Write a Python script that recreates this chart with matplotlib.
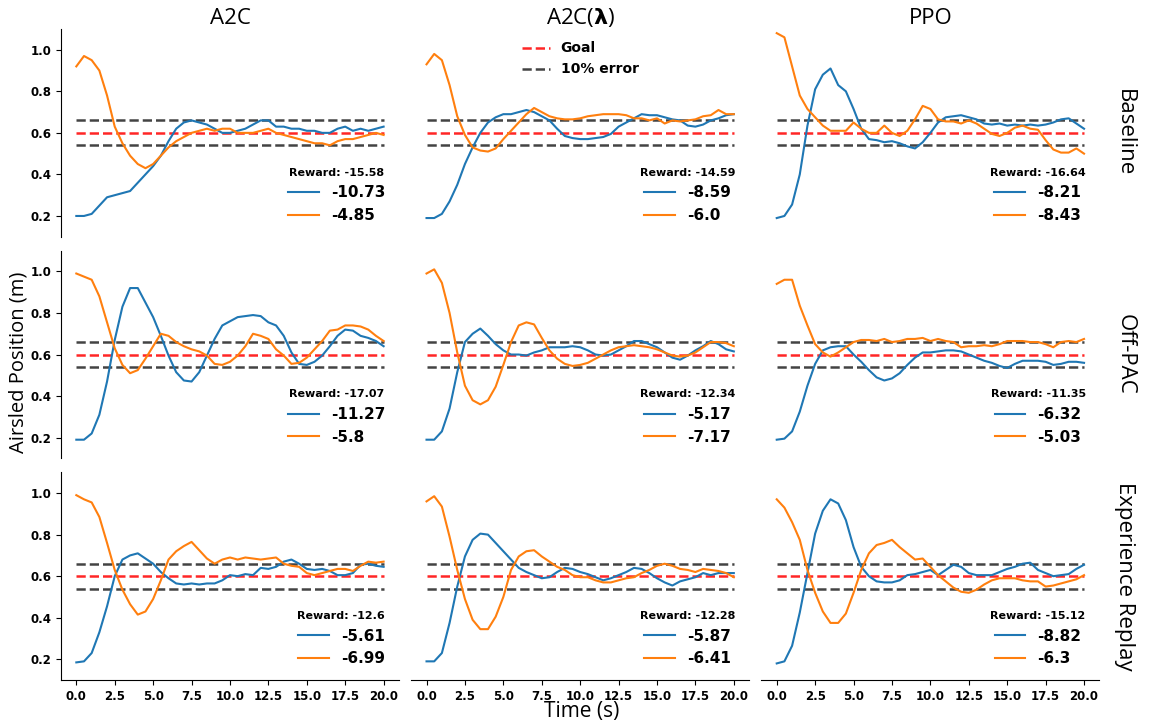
import numpy as np
import matplotlib
matplotlib.use("Agg")
import matplotlib.pyplot as plt

# ── Data ────────────────────────────────────────────────────────────────────
time_s = np.linspace(0, 20, 41)

algorithms = ["A2C", "A2C($\\boldsymbol{\\lambda}$)", "PPO"]
methods = ["Baseline", "Off-PAC", "Experience Replay"]

GOAL = 0.6
ERROR_BAND = (0.54, 0.66)

# Baseline
a2c_base_blue = [0.20, 0.20, 0.21, 0.25, 0.29, 0.30, 0.31, 0.32, 0.36, 0.40, 0.44,
                 0.49, 0.56, 0.62, 0.65, 0.66, 0.65, 0.64, 0.62, 0.60, 0.60, 0.61,
                 0.62, 0.64, 0.66, 0.66, 0.63, 0.63, 0.62, 0.62, 0.61, 0.61, 0.60,
                 0.60, 0.62, 0.63, 0.61, 0.62, 0.61, 0.62, 0.63]
a2c_base_orange = [0.92, 0.97, 0.95, 0.90, 0.78, 0.63, 0.55, 0.49, 0.45, 0.43, 0.45,
                   0.49, 0.53, 0.56, 0.58, 0.60, 0.61, 0.62, 0.61, 0.62, 0.62, 0.60,
                   0.60, 0.60, 0.61, 0.62, 0.60, 0.59, 0.58, 0.57, 0.56, 0.55, 0.55,
                   0.54, 0.56, 0.57, 0.57, 0.58, 0.59, 0.60, 0.59]
a2cl_base_blue = [0.19, 0.19, 0.21, 0.27, 0.35, 0.45, 0.53, 0.60, 0.65, 0.675, 0.69,
                  0.69, 0.70, 0.71, 0.70, 0.68, 0.66, 0.62, 0.585, 0.575, 0.57, 0.57,
                  0.575, 0.58, 0.595, 0.63, 0.65, 0.67, 0.69, 0.685, 0.685, 0.675,
                  0.665, 0.66, 0.635, 0.63, 0.64, 0.66, 0.67, 0.685, 0.69]
a2cl_base_orange = [0.93, 0.98, 0.95, 0.83, 0.68, 0.59, 0.53, 0.515, 0.51, 0.525, 0.57,
                    0.61, 0.65, 0.69, 0.72, 0.70, 0.68, 0.67, 0.665, 0.665, 0.67, 0.68,
                    0.685, 0.69, 0.69, 0.69, 0.685, 0.67, 0.67, 0.66, 0.67, 0.645,
                    0.66, 0.655, 0.66, 0.665, 0.68, 0.685, 0.71, 0.69, 0.69]
ppo_base_blue = [0.19, 0.20, 0.255, 0.40, 0.635, 0.81, 0.88, 0.91, 0.83, 0.80, 0.715,
                 0.62, 0.57, 0.565, 0.555, 0.56, 0.55, 0.535, 0.525, 0.555, 0.60, 0.65,
                 0.675, 0.68, 0.685, 0.675, 0.665, 0.645, 0.64, 0.645, 0.635, 0.64,
                 0.635, 0.64, 0.635, 0.64, 0.65, 0.665, 0.67, 0.645, 0.62]
ppo_base_orange = [1.08, 1.06, 0.92, 0.78, 0.715, 0.675, 0.635, 0.61, 0.61, 0.61, 0.65,
                   0.62, 0.60, 0.60, 0.635, 0.60, 0.585, 0.61, 0.665, 0.73, 0.715,
                   0.665, 0.655, 0.655, 0.645, 0.66, 0.645, 0.62, 0.595, 0.585, 0.60,
                   0.625, 0.635, 0.62, 0.615, 0.565, 0.52, 0.505, 0.505, 0.525, 0.50]

# Off-PAC
a2c_offpac_blue = [0.19, 0.19, 0.22, 0.31, 0.47, 0.67, 0.83, 0.92, 0.92, 0.85, 0.78,
                   0.69, 0.595, 0.515, 0.475, 0.47, 0.515, 0.595, 0.675, 0.74, 0.76,
                   0.78, 0.785, 0.79, 0.785, 0.755, 0.74, 0.69, 0.61, 0.555, 0.55,
                   0.565, 0.595, 0.64, 0.69, 0.72, 0.715, 0.69, 0.68, 0.665, 0.64]
a2c_offpac_orange = [0.99, 0.975, 0.96, 0.88, 0.755, 0.63, 0.55, 0.51, 0.525, 0.58, 0.64,
                     0.70, 0.69, 0.66, 0.64, 0.625, 0.615, 0.595, 0.555, 0.55, 0.565,
                     0.595, 0.64, 0.70, 0.69, 0.675, 0.625, 0.595, 0.555, 0.56, 0.585,
                     0.625, 0.665, 0.715, 0.72, 0.74, 0.74, 0.735, 0.72, 0.69, 0.665]
a2cl_offpac_blue = [0.19, 0.19, 0.23, 0.34, 0.515, 0.66, 0.70, 0.725, 0.69, 0.65, 0.62,
                    0.60, 0.60, 0.595, 0.61, 0.62, 0.635, 0.635, 0.635, 0.64, 0.635,
                    0.62, 0.60, 0.595, 0.60, 0.62, 0.64, 0.665, 0.665, 0.65, 0.635,
                    0.61, 0.585, 0.575, 0.595, 0.62, 0.64, 0.665, 0.65, 0.625, 0.615]
a2cl_offpac_orange = [0.99, 1.01, 0.945, 0.80, 0.61, 0.45, 0.38, 0.36, 0.38, 0.445, 0.55,
                      0.66, 0.74, 0.755, 0.745, 0.68, 0.62, 0.58, 0.555, 0.545, 0.55,
                      0.56, 0.58, 0.60, 0.62, 0.635, 0.64, 0.645, 0.64, 0.635, 0.625,
                      0.61, 0.595, 0.59, 0.595, 0.61, 0.635, 0.66, 0.66, 0.655, 0.64]
ppo_offpac_blue = [0.19, 0.195, 0.23, 0.325, 0.45, 0.555, 0.62, 0.635, 0.64, 0.64, 0.60,
                   0.565, 0.525, 0.49, 0.475, 0.485, 0.51, 0.55, 0.585, 0.61, 0.61,
                   0.615, 0.62, 0.62, 0.615, 0.60, 0.585, 0.57, 0.56, 0.545, 0.535,
                   0.555, 0.57, 0.57, 0.57, 0.565, 0.55, 0.555, 0.565, 0.565, 0.56]
ppo_offpac_orange = [0.94, 0.96, 0.96, 0.835, 0.74, 0.65, 0.61, 0.59, 0.61, 0.635, 0.66,
                     0.67, 0.67, 0.665, 0.675, 0.66, 0.665, 0.675, 0.675, 0.68, 0.665,
                     0.675, 0.665, 0.66, 0.635, 0.64, 0.64, 0.645, 0.64, 0.65, 0.665,
                     0.665, 0.665, 0.66, 0.66, 0.65, 0.635, 0.66, 0.665, 0.66, 0.675]

# Experience Replay
a2c_er_blue = [0.185, 0.19, 0.23, 0.33, 0.455, 0.60, 0.68, 0.70, 0.71, 0.685, 0.66,
               0.62, 0.59, 0.565, 0.56, 0.565, 0.56, 0.565, 0.565, 0.58, 0.605, 0.60,
               0.61, 0.605, 0.64, 0.635, 0.645, 0.67, 0.68, 0.66, 0.635, 0.63, 0.635,
               0.625, 0.605, 0.605, 0.615, 0.655, 0.66, 0.65, 0.645]
a2c_er_orange = [0.99, 0.97, 0.955, 0.885, 0.76, 0.63, 0.535, 0.465, 0.415, 0.43, 0.49,
                 0.58, 0.68, 0.72, 0.745, 0.765, 0.725, 0.685, 0.66, 0.68, 0.69, 0.68,
                 0.69, 0.685, 0.68, 0.685, 0.69, 0.66, 0.65, 0.645, 0.615, 0.605, 0.615,
                 0.625, 0.635, 0.635, 0.625, 0.65, 0.67, 0.665, 0.67]
a2cl_er_blue = [0.19, 0.19, 0.23, 0.375, 0.55, 0.695, 0.775, 0.805, 0.80, 0.76, 0.72,
                0.68, 0.64, 0.62, 0.605, 0.59, 0.595, 0.62, 0.64, 0.635, 0.62, 0.61,
                0.595, 0.58, 0.59, 0.605, 0.62, 0.64, 0.635, 0.615, 0.59, 0.57, 0.555,
                0.575, 0.585, 0.595, 0.615, 0.605, 0.615, 0.615, 0.615]
a2cl_er_orange = [0.96, 0.985, 0.935, 0.79, 0.63, 0.49, 0.39, 0.345, 0.345, 0.405, 0.50,
                  0.63, 0.695, 0.72, 0.725, 0.695, 0.67, 0.645, 0.63, 0.605, 0.595,
                  0.595, 0.58, 0.57, 0.57, 0.58, 0.59, 0.595, 0.615, 0.63, 0.65, 0.66,
                  0.65, 0.635, 0.63, 0.62, 0.635, 0.63, 0.625, 0.615, 0.595]
ppo_er_blue = [0.18, 0.19, 0.265, 0.425, 0.615, 0.805, 0.915, 0.97, 0.95, 0.87, 0.74,
               0.645, 0.60, 0.575, 0.57, 0.57, 0.58, 0.605, 0.61, 0.62, 0.63, 0.605,
               0.63, 0.655, 0.645, 0.615, 0.605, 0.605, 0.605, 0.62, 0.635, 0.645,
               0.66, 0.665, 0.63, 0.615, 0.60, 0.605, 0.61, 0.635, 0.655]
ppo_er_orange = [0.97, 0.93, 0.86, 0.775, 0.63, 0.52, 0.43, 0.375, 0.375, 0.42, 0.52,
                 0.63, 0.71, 0.75, 0.76, 0.775, 0.74, 0.71, 0.68, 0.685, 0.645, 0.605,
                 0.575, 0.545, 0.525, 0.52, 0.535, 0.56, 0.58, 0.59, 0.59, 0.59, 0.58,
                 0.575, 0.575, 0.55, 0.555, 0.565, 0.575, 0.585, 0.605]

# per-panel rewards: (blue, orange)
rewards = [
    [(-10.73, -4.85), (-8.59, -6.0), (-8.21, -8.43)],
    [(-11.27, -5.8), (-5.17, -7.17), (-6.32, -5.03)],
    [(-5.61, -6.99), (-5.87, -6.41), (-8.82, -6.3)],
]

traces = [
    [(a2c_base_blue, a2c_base_orange), (a2cl_base_blue, a2cl_base_orange),
     (ppo_base_blue, ppo_base_orange)],
    [(a2c_offpac_blue, a2c_offpac_orange), (a2cl_offpac_blue, a2cl_offpac_orange),
     (ppo_offpac_blue, ppo_offpac_orange)],
    [(a2c_er_blue, a2c_er_orange), (a2cl_er_blue, a2cl_er_orange),
     (ppo_er_blue, ppo_er_orange)],
]

LABEL_FONT = "Open Sans"

# ── Figure ──────────────────────────────────────────────────────────────────
fig, axes = plt.subplots(3, 3, figsize=(11.5, 7.25), dpi=100, sharex=True, sharey=True)
fig.subplots_adjust(left=0.053, right=0.956, bottom=0.062, top=0.960,
                    wspace=0.036, hspace=0.067)

for r in range(3):
    for c in range(3):
        ax = axes[r, c]
        blue, orange = traces[r][c]
        rb, ro = rewards[r][c]

        goal_line = ax.hlines(GOAL, 0, 20, colors="red", linestyles="--", lw=1.8, alpha=0.85)
        err_line = ax.hlines(ERROR_BAND, 0, 20, colors="#222222", linestyles="--", lw=1.8,
                             alpha=0.85)
        lb, = ax.plot(time_s, blue, color="#1f77b4", lw=1.5)
        lo, = ax.plot(time_s, orange, color="#ff7f0e", lw=1.5)

        leg = ax.legend([lb, lo], [str(rb), str(ro)], title=f"Reward: {round(rb + ro, 2)}",
                        loc="lower right", frameon=False,
                        prop={"weight": "bold", "size": 11},
                        title_fontproperties={"weight": "bold", "size": 8})
        if r == 0 and c == 1:
            ax.add_artist(leg)
            ax.legend([goal_line, err_line], ["Goal", "10% error"], loc="upper center",
                      frameon=False, prop={"weight": "bold", "size": 10})

        ax.spines["top"].set_visible(False)
        ax.spines["right"].set_visible(False)
        if c > 0:
            ax.spines["left"].set_visible(False)
            ax.tick_params(left=False)
        if r < 2:
            ax.spines["bottom"].set_visible(False)
            ax.tick_params(bottom=False)
        ax.tick_params(labelsize=8.5)

        if r == 0:
            ax.set_title(algorithms[c], fontsize=16, family=LABEL_FONT, pad=3)
        if c == 2:
            ax.text(1.075, 0.5, methods[r], transform=ax.transAxes, rotation=-90,
                    ha="center", va="center", fontsize=16, family=LABEL_FONT)

axes[0, 0].set_ylim(0.1, 1.1)
axes[0, 0].set_yticks([0.2, 0.4, 0.6, 0.8, 1.0])
axes[0, 0].set_xticks([0, 2.5, 5, 7.5, 10, 12.5, 15, 17.5, 20])
axes[0, 0].set_xlim(-1, 21)
for ax in axes.flat:
    for lbl in ax.get_xticklabels() + ax.get_yticklabels():
        lbl.set_fontweight("bold")

fig.text(0.016, 0.5, "Airsled Position (m)", rotation=90, ha="center", va="center",
         fontsize=14.5, family=LABEL_FONT)
fig.text(0.506, 0.018, "Time (s)", ha="center", va="center",
         fontsize=15, family=LABEL_FONT)

fig.savefig("out.png", dpi=100)
plt.close(fig)
